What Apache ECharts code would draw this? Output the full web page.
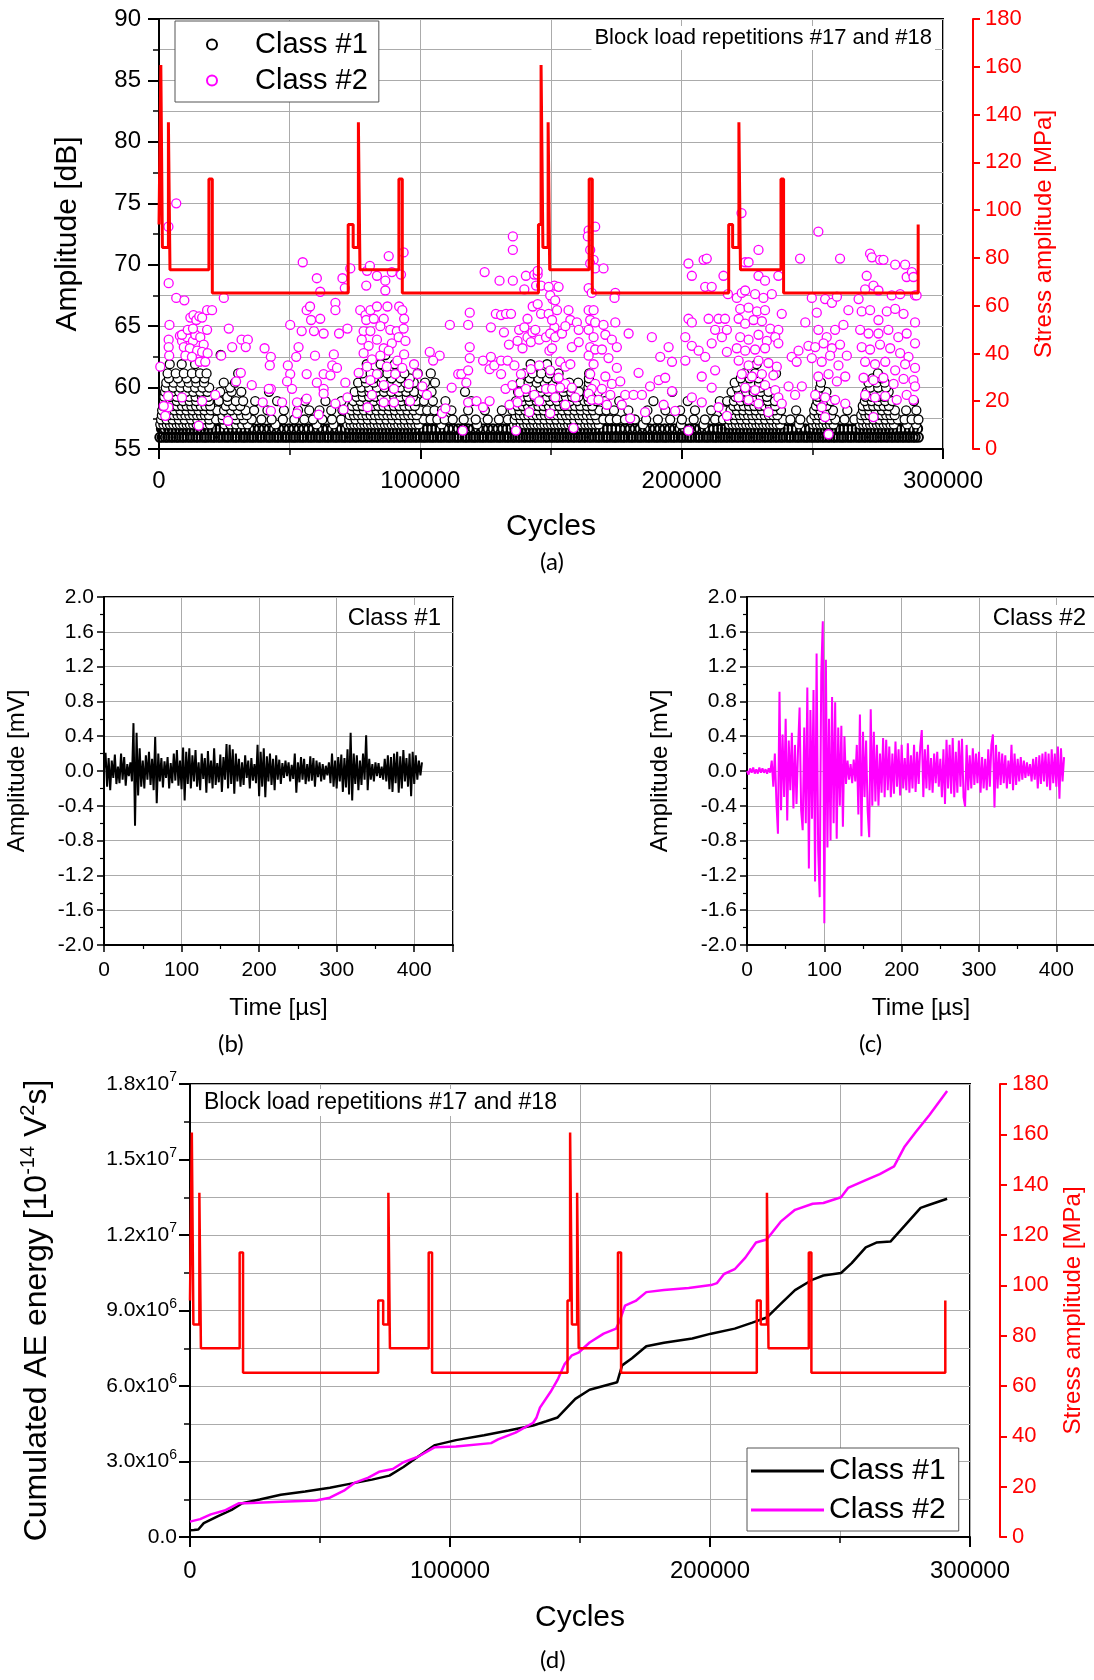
<!DOCTYPE html>
<html>
<head>
<meta charset="utf-8">
<script src="https://cdn.jsdelivr.net/npm/echarts@6/dist/echarts.min.js"></script>
<style>
  html, body { margin: 0; padding: 0; background: #fff; }
  #chart { width: 1094px; height: 1680px; }
</style>
</head>
<body>
<div id="chart"></div>
<script>
// ---------- data ----------
// cycle positions below are in thousands of cycles

// stress amplitude block sequence [kcycles, MPa] (step changes)
const stressSteps = [
  [0, 94], [0.7, 160.7], [1.3, 84.4], [3.6, 136.8], [4.2, 75], [19.1, 113], [20.4, 65.3],
  [72.4, 94], [74.3, 84.4], [76.3, 136.8], [76.9, 75], [91.8, 113], [93.1, 65.3],
  [145.2, 94], [146.2, 160.7], [146.9, 84.4], [148.9, 136.8], [149.5, 75], [164.6, 113], [165.8, 65.3],
  [218.0, 94], [219.5, 84.4], [221.9, 136.8], [222.5, 75], [238.0, 113], [239.0, 65.3],
  [290.5, 94]
]

// class #1 hits close to the threshold (dense band), cycles (k) at 55.95 dB and 56.65 dB
const c1Band0 = [0.3,1.2,2.4,3.3,4.5,5.4,6.6,7.5,8.7,9.6,10.8,11.9,12.9,14.1,15,16.2,17.3,18.2,19.4,20.5,21.4,22.6,23.5,24.7,25.8,26.7,27.9,29,29.9,31.1,32.2,33.1,34.3,35.4,36.3,37.5,38.6,39.5,40.7,41.8,42.7,43.9,45,45.9,47.1,48.2,49.1,50.3,51.4,52.3,53.5,54.6,55.5,56.7,57.8,58.7,59.9,61,61.9,63.1,64.2,65.1,66.3,67.4,68.3,69.5,70.6,71.5,72.7,73.6,74.8,75.7,76.9,77.8,79,79.9,81.1,82,83.2,84.1,85.3,86.2,87.4,88.3,89.5,90.4,91.6,92.5,93.7,94.6,95.8,96.7,97.9,98.8,100,101.1,102,103.2,104.3,105.2,106.4,107.5,108.4,109.6,110.7,111.6,112.8,113.9,114.8,116,117.1,118,119.2,120.3,121.2,122.4,123.5,124.4,125.6,126.7,127.6,128.8,129.9,130.8,132,133.1,134,135.2,136.1,137.3,138.2,139.4,140.3,141.5,142.4,143.6,144.5,145.7,146.6,147.8,148.7,149.9,150.8,152,152.9,154.1,155,156.2,157.1,158.3,159.2,160.4,161.3,162.5,163.4,164.6,165.5,166.7,167.8,168.7,169.9,171,171.9,173.1,174.2,175.1,176.3,177.4,178.3,179.5,180.6,181.5,182.7,183.8,184.7,185.9,187,187.9,189.1,190.2,191.1,192.3,193.4,194.3,195.5,196.6,197.5,198.7,199.8,200.7,201.9,203,203.9,205.1,206.2,207.1,208.3,209.4,210.3,211.5,212.6,213.5,214.7,215.6,216.8,217.7,218.9,219.8,221,221.9,223.1,224,225.2,226.1,227.3,228.2,229.4,230.3,231.5,232.4,233.6,234.5,235.7,236.6,237.8,238.7,239.9,241,241.9,243.1,244.2,245.1,246.3,247.4,248.3,249.5,250.4,251.6,252.5,253.7,254.6,255.8,256.7,257.9,258.8,260,261.1,262,263.2,264.3,265.2,266.4,267.5,268.4,269.6,270.5,271.7,272.6,273.8,274.7,275.9,276.8,278,278.9,280.1,281,282.2,283.1,284.3,285.2,286.4,287.3,288.5,289.4,290.6]
const c1Band1 = [0.9,2.2,3.6,5,6.4,7.8,9.1,10.5,11.9,13.3,14.7,16,17.4,18.8,20.2,21.7,23.3,24.9,26.5,28.1,29.7,31.3,32.9,34.6,36.4,38.3,40.2,42.1,44,45.9,47.8,49.7,51.6,53.5,55.4,57.2,59,60.8,62.6,64.4,66.2,68,69.8,71.4,72.8,74.2,75.6,77,78.4,79.8,81.2,82.6,84,85.4,86.8,88.2,89.6,91,92.4,93.8,95.2,96.6,98,99.5,101.1,102.7,104.3,105.9,107.5,109.1,110.8,112.6,114.5,116.4,118.3,120.2,122.1,124,125.9,127.8,129.7,131.5,133.2,134.7,136.1,137.5,138.9,140.3,141.7,143.1,144.5,145.9,147.3,148.7,150.1,151.5,152.9,154.3,155.7,157.1,158.5,159.9,161.3,162.7,164.1,165.5,166.9,168.4,170,171.6,173.2,174.8,176.5,178.3,180.2,182.1,184,185.9,187.8,189.7,191.6,193.5,195.4,197.3,199.2,201.1,203,204.9,206.8,208.7,210.5,212.2,213.8,215.3,216.7,218.1,219.5,220.9,222.3,223.7,225.1,226.5,227.9,229.3,230.7,232.1,233.5,234.9,236.3,237.7,239.1,240.6,242.2,243.9,245.6,247.3,249,250.5,251.9,253.3,254.7,256.1,257.5,258.9,260.4,262,263.6,265.2,266.8,268.2,269.6,271,272.4,273.8,275.2,276.6,278,279.4,280.8,282.3,283.9,285.5,287.1,288.7,290.3]
const class1BandLevels = [55.95, 56.65]
const class1BandRows = [c1Band0, c1Band1]

// class #1 hits above the band, amplitude levels [dB] and the cycles (k) at each level
const c1L570 = [0.5,1.7,3,4.2,5.5,6.8,8,9.3,10.6,11.8,13.1,14.4,15.6,16.9,18.2,19.5,25.1,27.3,29.5,31.8,33.9,44.6,60.3,66.8,72.1,73.4,74.7,76,77.3,78.6,79.9,81.2,82.5,83.8,85.1,86.4,87.7,89,90.3,91.6,92.9,94.2,95.5,96.8,98.1,99.4,108.1,121.7,135.8,137.1,138.4,139.7,141,142.3,143.6,144.9,146.2,147.5,148.8,150.1,151.4,152.7,154,155.3,156.6,157.9,159.2,160.5,161.8,163.1,164.4,165.7,167,168.3,185.2,199.7,208.4,218.2,219.5,220.8,222.1,223.4,224.7,226,227.3,228.6,229.9,231.2,232.5,233.8,235.1,236.4,237.7,244.9,250.3,251.6,252.9,254.2,255.5,256.8,258.1,268.2,269.5,270.8,272.1,273.4,274.7,276,277.3,278.6,279.9,281.2,286.3,289.7]
const c1L574 = [0.8,2.9,5.2,7.6,9.8,12.3,14.6,16.9,19.2,21.8,24.4,27,29.6,32.4,35.5,39.2,43.1,47.4,51.8,55.6,58.9,62.5,66.2,69.7,72.8,75.2,77.6,79.9,82.3,84.6,87,89.3,91.7,94,96.3,98.7,101.2,103.9,106.5,109.3,112.4,116.6,121.2,125.8,130.1,133.5,136.1,138.4,140.7,143,145.3,147.5,149.8,152,154.3,156.5,158.8,161,163.3,165.3,167.6,170,172.5,175.2,178.3,182.1,186.4,190.9,195.6,200.1,204.6,208.9,212.8,215.8,218.1,220.4,222.7,225,227.3,229.6,231.9,234.2,236.5,238.8,241.6,245.4,249.6,251.9,254.2,256.5,258.8,262.3,266.1,268.8,271.1,273.4,275.7,278,280.3,282.7,285.3,288,290.6]
const c1L5775 = [1.1,2.6,4.1,5.6,7.1,8.6,10.1,11.6,13.1,14.6,16.1,17.6,19.1,24.2,26.6,29,31.4,33.6,73,74.6,76.2,77.8,79.4,81,82.6,84.2,85.8,87.4,89,90.6,92.2,93.8,95.4,97,98.6,136.5,138.1,139.7,141.3,142.9,144.5,146.1,147.7,149.3,150.9,152.5,154.1,155.7,157.3,158.9,160.5,162.1,163.7,165.3,166.9,219,220.6,222.2,223.8,225.4,227,228.6,230.2,231.8,233.4,235,236.6,250.8,252.4,254,255.6,257.2,268.7,270.3,271.9,273.5,275.1,276.7,278.3,279.9,281.5]
const c1L5815 = [1.2,3.5,5.9,8.2,10.5,12.8,15.1,17.4,19.8,22.3,24.9,27.6,30.2,33.1,36.4,41.5,47.8,53.2,57.5,61.4,65.9,70.2,73.6,76,78.4,80.8,83.2,85.5,87.9,90.2,92.6,95,97.4,99.9,102.6,105.4,108.3,111.9,118.3,124.7,131.2,135.3,137.9,140.2,142.6,144.9,147.2,149.6,151.9,154.3,156.6,159,161.4,163.9,166,168.5,171.2,174.1,179.6,186.9,193.8,199.4,205.1,211.3,216.2,218.7,221.1,223.5,225.9,228.3,230.7,233.1,235.6,238,243.8,250.7,253.1,255.5,257.9,263.4,269.4,271.8,274.2,276.6,279,281.6,285.9,289.8]
const c1L585 = [1.6,3.4,5.2,7,8.8,10.6,12.4,14.2,16,17.8,19.6,25.6,28.4,31.1,73.9,75.9,77.9,79.9,81.9,83.9,85.9,87.9,89.9,91.9,93.9,95.9,97.9,137.2,139.2,141.2,143.2,145.2,147.2,149.2,151.2,153.2,155.2,157.2,159.2,161.2,163.8,165.8,219.8,221.8,223.8,225.8,227.8,229.8,231.8,233.8,235.8,251.4,253.4,255.4,269.3,271.3,273.3,275.3,277.3,279.3]
const c1L589 = [1.9,4.3,6.8,9.2,11.7,14.2,16.7,19.1,22.9,26.3,29.4,32.2,36.8,45.2,55.9,63.7,69.8,74.4,77.1,79.7,82.3,84.9,87.5,90.1,92.8,95.5,98.4,101.4,104.8,109.6,119.5,136.6,139.3,141.9,144.5,147.1,149.7,152.3,154.9,157.5,160.1,162.8,164.4,167.3,170.6,176.1,189.2,202.3,214.6,217.4,220,222.6,225.2,227.8,230.4,233,235.7,252,254.6,257.2,270.1,272.7,275.3,277.9,280.6,288.9]
const c1L5925 = [2,4.4,6.8,9.2,11.6,14,16.4,18.8,26.1,75.6,78,80.4,82.8,85.2,87.6,90,92.4,94.8,97.2,138.9,141.3,143.7,146.1,148.5,150.9,153.3,155.7,158.1,160.5,164.1,220.6,223,225.4,227.8,230.2,232.6,252.1,254.5,270.4,272.8,275.2,277.6]
const c1L5965 = [2.3,5,7.7,10.4,13.1,15.8,18.5,23.4,27.8,31.5,42.1,74.9,77.7,80.5,83.3,86.1,88.9,91.7,94.6,97.6,100.9,104.3,117.1,137.4,140.3,143.2,146.1,149,151.9,154.8,157.7,160.7,164.2,168.1,196.4,219.1,221.9,224.7,227.5,230.3,233.2,252.6,255.4,270.8,273.6,276.4,279.2]
const c1L600 = [2.6,5.4,8.2,11,13.8,16.6,19.2,27.2,77.4,80.4,83.4,86.4,89.4,92.4,95.4,140,143,146,149,152,155,158,164.3,221.2,224.2,227.2,230.2,253,272.2,275.2,278.2]
const c1L604 = [2.8,5.6,8.5,11.4,14.3,17.2,24.8,29.1,76.2,79.2,82.2,85.2,88.2,91.2,94.3,97.5,101.8,105.6,138.3,141.4,144.5,147.6,150.7,153.8,157,160.4,164.5,220.3,223.4,226.5,229.6,253.3,271.5,274.6,277.7]
const c1L6075 = [3.8,7.2,10.6,14,17.4,78.8,82.2,85.6,89,92.4,96,141.8,145.2,148.6,152,164.5,222.6,226,229.4,273,276.4]
const c1L6115 = [3.3,6.4,9.5,12.6,15.7,18.2,30.3,77.8,81,84.2,87.4,90.6,93.9,99,104,139.7,143,146.3,149.6,152.9,164.6,223.9,228.1,236.1,275.1]
const c1L619 = [4.1,8.7,13.8,79.5,84.8,90.2,142.2,148.5,228.7]
const c1L6265 = [23.6,86.6]
const class1Levels = [57.0, 57.4, 57.75, 58.15, 58.5, 58.9, 59.25, 59.65, 60.0, 60.4, 60.75, 61.15, 61.9, 62.65]
const class1Rows = [c1L570, c1L574, c1L5775, c1L5815, c1L585, c1L589, c1L5925, c1L5965, c1L600, c1L604, c1L6075, c1L6115, c1L619, c1L6265]

// class #2 hits [kcycles, dB]
const class2Hits = [
  [0.5,61.7],[3.6,73.1],[3.7,68.5],[4,65.1],[3.7,63.9],[3.7,63.3],[3.9,62.6],[3.5,59.3],[3.6,58.4],[6.6,75],[6.6,67.3],[9.7,67.1],
  [12,65.7],[13.2,65.9],[14.3,65.5],[15.4,65.8],[16.5,65.7],[18.4,66.3],[20.3,66.3],[24.8,67.3],[26.7,64.8],
  [8,64.2],[8.8,63.8],[10.7,64.1],[13,63.8],[13.9,64.3],[15.8,64.1],[17.1,63.5],[18.4,64.7],[9.5,63.3],[11.8,63.2],
  [14.6,63],[16.5,62.9],[10.1,62.6],[12.6,62.5],[15.6,62.1],[17.7,62.1],[18.6,62.8],[8.8,64.3],[11,64.7],[13,64.8],
  [8.8,59.2],[1.8,58.5],[2.4,57.7],[15.2,56.9],[26.4,57.3],[16.5,58.9],[31.6,63.9],[34,63.9],[28,63.3],[33.2,63.3],
  [23.8,62.6],[31.3,61.2],[21.5,59.4],[29.5,60.5],[35.5,60.2],[40.4,63.2],[42.8,62.5],[42.4,61.8],[42.8,59.9],[42.8,58.1],
  [39.7,58.8],[47.1,58.8],[50.2,65.1],[55,70.2],[49.3,61.8],[50.2,61.1],[50.9,59.9],[52.8,58.8],[53.4,63.3],[54.6,64.6],
  [56.5,66.3],[57.8,66.6],[58.2,65.5],[59.3,64.6],[59.7,62.6],[60.4,68.9],[61.7,67.8],[61.7,65.6],[63,64.4],[63,61.1],
  [66.3,61.8],[66.9,62.7],[67.5,66.9],[67.5,66.3],[68.9,64.4],[70.2,68.9],[71.1,68.1],[72.1,64.8],[73.2,69.7],[52.5,62.5],
  [56.5,61.1],[60.4,60.4],[63,59.9],[65.6,61],[68.1,61.6],[71.3,60.4],[72.1,59.2],[67.5,58.7],[61.1,57.8],[63,59.5],
  [70.6,58.2],[49,60.5],[52.8,57.9],[56.5,59.1],[42,59.9],
  [77,66.3],[79,65.9],[80.9,66.3],[79.3,65.5],[82.2,65.6],[83.4,66.6],[86,65.6],[87.4,66.6],[91.9,66.6],[93.1,66.3],
  [93.8,65.6],[79.6,69.5],[80.7,69.9],[83.4,69.1],[86.6,68.7],[87.9,70.7],[86.6,67.9],[79.3,68.3],[92.6,69.2],[93.6,71],
  [89.1,69.4],[78.3,64.6],[80.9,64.6],[84.7,65],[88.5,64.7],[91,64.6],[93.6,64.8],[77.6,63.9],[80.2,63.4],[83.4,63.9],
  [86,63.2],[89.1,63.6],[91.7,64.1],[94.3,63.8],[78.3,62.8],[81.5,62.3],[84.7,62.6],[87.9,63],[91.2,62.2],[93.8,62.7],
  [79.6,61.7],[83.4,61.1],[87.2,61.7],[90.4,61.1],[93.1,61.6],[76.4,61.2],[80.9,60.6],[86,60.2],[89.9,59.9],[95.6,60.3],
  [97.6,61.9],[98.9,61.1],[96.1,58.9],[86,58.8],[89.9,58.8],[79.8,58.4],[81.5,59.4],
  [103.6,62.9],[107.4,62.6],[104.9,62.2],[111.3,65.1],[114.5,61.1],[115.7,61.1],[118.3,61.4],[118.9,63.3],[118.3,65.1],[118.9,66.1],
  [112,60],[117.6,60.4],[118.9,62.4],[124,62.2],[124.6,69.4],[126.5,61.5],[118.3,58.8],[121.5,58.9],[108.3,57.9],[109.6,58.3],
  [124,58.4],[116.2,56.5],[100.8,60.1],[102.5,59.4],
  [128.3,61.8],[130.9,62.2],[133.4,62.2],[127,64.9],[128.9,66],[130.9,65.9],[132.8,66],[134.7,66],[135.4,72.3],[135.4,71.2],
  [135.4,68.7],[130.3,68.7],[139.8,68],[140.4,69.1],[143.6,69.2],[144.9,69.2],[144.3,68.3],[146.2,68.3],[144.9,69.5],[141,65.6],
  [143,66.6],[144.9,66.8],[146.2,66],[137.8,64.7],[139.8,64.9],[141,64.1],[142.9,64.5],[137.2,63.8],[139.1,63.2],[142.3,63.7],
  [145.5,63.9],[133.9,63.5],[132,64.5],[127,62.5],[130.9,61.1],[136,61.8],[138.5,61.1],[142.3,61.5],[145.5,61.8],[132.6,59.9],
  [135.2,60.2],[137.8,59.6],[140.4,59.9],[143.6,59.4],[148.1,59.9],[126.5,58.9],[134.1,58.6],[137.2,58.8],[141.7,58],[136.6,56.5],
  [145.5,58.9],[144,64.7],[148.1,64.1],[149.4,63],[151.3,64.9],[150.6,67.2],[151.3,68.3],
  [149.1,68.2],[149.7,67.5],[149.1,66],[150.4,65.5],[152.9,68.2],[151.6,67.1],[152.3,66.3],[149.7,64.4],[151.6,64.1],[154.2,64.4],
  [156.7,66.3],[157.4,65.5],[159.9,65.3],[160.6,64.7],[155.5,65],[158,63.3],[160.6,63.7],[150.4,63.2],[153.5,62.1],[155.5,61.7],
  [157.4,61.9],[149.7,61.4],[152.9,60.8],[155.5,60.3],[158,60],[150.4,59.9],[151.6,59.2],[155.5,58.6],[159.3,59.2],[149.7,57.9],
  [158.6,56.7],[153.5,60],
  [164.4,72.8],[166.9,73.1],[164.1,72.3],[165,71.2],[166.3,70.4],[165,70.1],[166.9,69.7],[164.4,68.1],[165.6,67.7],[164.4,66.3],
  [166.3,66.3],[165,65.5],[166.9,65.3],[164.4,64.7],[166.3,64.1],[165,63.3],[166.9,63.1],[164.4,62.6],[166.3,61.9],[165,61.1],
  [166.9,60.3],[165.6,59.9],[164.4,59.5],[165.6,59],
  [170.1,69.7],[174.6,67.7],[174.3,67.3],[170.1,65.1],[174.6,65.3],[170.8,64.3],[173.3,63.9],[175.2,63.3],[169.5,63.1],[172,62.4],
  [175.2,61.6],[170.8,60.9],[173.3,60.3],[176.5,60.5],[169.5,59.9],[172.7,59.4],[178.4,59.4],[168.2,59],[171.4,58.6],[177.1,58.6],
  [181.6,59.4],[184.8,59.4],[179.7,64.4],[180.3,57.5],[186,58],[188.6,64.1],[191.8,62.5],[195,63.3],[196.3,62.1],[191.2,60.6],
  [193.7,60.8],[196.3,59.7],[193.1,58.6],[197.5,58.1],[201.4,62.2],[202.6,70.1],[203.9,69.1],[202.6,65.6],[203.9,65.3],[201.4,64.1],
  [203.9,63.4],[206.5,63],[208.4,70.4],[209.6,70.5],[209,68.2],[211.5,68.2],[210.3,65.6],[214.1,65.6],[216.6,65.6],[212.8,64.7],
  [215.4,64.1],[217.3,64.7],[211.5,63.6],[217.3,62.9],[209,62.5],[212.8,61.4],[207.7,60.9],[211.5,60],[203.9,59.2],[207.7,58.8],
  [214.1,58.4],[217.3,57.7],[202.6,56.5],[216,69.1],[217.7,67.6],[183.5,61.2],[187.9,60.1],
  [221.1,67.3],[223,67.7],[224.3,70.2],[225.6,70.2],[229.4,71.2],[229.4,69.1],[231.9,68.7],[237,69.1],[224.3,67.9],[228.1,67.6],
  [231.3,67.3],[234.5,67.6],[222.4,66.4],[225.6,66.5],[228.8,66.2],[231.9,66.3],[221.8,65.6],[224.3,65.2],[227.5,65.5],[230.7,65.4],
  [233.9,64.8],[237,64.7],[222.4,64.1],[225.6,63.9],[229.4,64.3],[232.6,63.8],[235.8,64.1],[221.1,63.2],[224.3,63],[228.1,63.1],
  [231.9,63.2],[237,63.6],[221.8,62.2],[225.6,61.8],[229.4,62.2],[233.2,62],[236.4,61.7],[223,61.1],[226.9,60.9],[230.7,61.1],
  [235.1,61],[224.3,60],[228.1,59.8],[231.9,60.2],[235.8,59.8],[221.8,59.2],[225.6,59],[229.4,58.7],[233.2,58],[237,59.2],
  [238.3,66],[238.3,58.7],[240.9,60.1],[242.1,62.5],[244.7,63],[244,62.1],[246,60.1],[243.4,59.4],[245.3,70.5],[248.5,63.4],
  [247.3,65.3],[222.9,74.2],
  [252.3,72.7],[249.8,67.3],[251.7,66.1],[254.9,67.2],[257.5,66.9],[259.4,67.4],[260.6,70.5],[252.3,64.7],[255.5,64.1],[258.7,64.7],
  [261.9,65.1],[251.1,63.3],[254.3,63.6],[257.5,63.2],[260.6,63.5],[249.8,62.4],[253.6,62.1],[256.8,62.6],[260,61.8],[263.2,62.6],
  [252.3,60.9],[256.2,61.1],[259.4,60.5],[262.6,60.9],[251.1,59.4],[254.9,59.2],[258.7,59],[262.6,58.7],[254.9,57.6],[256.2,56.2],
  [253.6,58.4],
  [263.8,66.3],[267.7,67.2],[270.2,68],[272.1,70.9],[272.8,70.6],[275.9,70.4],[277.2,70.4],[281.7,70],[285.5,70],[270.8,69.1],
  [273.4,68.3],[275.3,67.9],[286.1,69],[288.1,69.4],[288.7,69],[289.3,67.5],[289.9,67.5],[280.4,67.5],[283.6,67.6],[268.9,66.2],
  [272.1,66.3],[275.3,65.5],[278.5,66.2],[281.7,66.4],[284.9,66],[289.3,65.3],[268.3,64.7],[271.5,64.4],[275.3,64.4],[279.1,64.7],
  [282.9,64.1],[286.1,64.4],[289.3,63.6],[268.9,63.3],[272.1,63.1],[275.9,63.5],[279.8,63.2],[283.6,62.8],[286.8,62.5],[270.2,62.1],
  [274,61.9],[277.9,62.1],[281.7,61.4],[285.5,61.9],[289.3,61.6],[269.6,60.8],[273.4,60.6],[277.2,60.8],[281.1,60.3],[284.9,60.7],
  [288.7,60.6],[270.2,59.4],[274,59.2],[277.9,59.3],[282.3,59],[286.1,59.4],[273.4,57.6],[289.3,60.1],[288.7,59]
]

// waveforms, one sample every 2 µs from 0 to 410 µs [mV]
const waveStep = 2
const wave1 = [
  0.02,0.21,-0.18,0.15,-0.22,0.12,-0.08,0.19,-0.15,0.05,-0.14,0.2,-0.1,0.16,-0.17,0.08,-0.06,0.1,-0.12,0.55,
  -0.63,0.44,-0.28,0.26,-0.18,0.12,-0.2,0.18,-0.1,0.22,-0.16,0.14,-0.22,0.39,-0.37,0.2,-0.12,0.15,-0.19,0.11,
  -0.08,0.16,-0.2,0.09,-0.14,0.2,-0.11,0.24,-0.17,0.12,-0.21,0.27,-0.34,0.22,-0.15,0.26,-0.2,0.18,-0.12,0.24,
  -0.18,0.1,-0.22,0.2,-0.09,0.15,-0.25,0.23,-0.14,0.12,-0.2,0.26,-0.16,0.09,-0.13,0.19,-0.24,0.16,-0.1,0.31,
  -0.2,0.3,-0.15,0.25,-0.26,0.2,-0.12,0.14,-0.18,0.1,-0.16,0.18,-0.08,0.12,-0.2,0.15,-0.11,0.08,-0.14,0.3,
  -0.29,0.22,-0.18,0.26,-0.3,0.17,-0.12,0.2,-0.16,0.14,-0.22,0.18,-0.1,0.13,-0.15,0.09,-0.08,0.12,-0.06,0.1,
  -0.12,0.07,-0.09,0.2,-0.25,0.1,-0.13,0.16,-0.1,0.14,-0.15,0.08,-0.12,0.17,-0.11,0.15,-0.18,0.12,-0.07,0.1,
  -0.12,0.08,-0.1,0.06,-0.05,0.1,-0.14,0.2,-0.18,0.12,-0.2,0.16,-0.12,0.19,-0.24,0.15,-0.19,0.25,-0.27,0.44,
  -0.34,0.2,-0.15,0.18,-0.22,0.12,-0.16,0.2,-0.1,0.41,-0.22,0.14,-0.1,0.08,-0.12,0.1,-0.06,0.09,-0.08,0.05,
  -0.1,0.14,-0.12,0.18,-0.21,0.16,-0.24,0.2,-0.14,0.22,-0.25,0.17,-0.2,0.24,-0.12,0.15,-0.18,0.2,-0.29,0.22,
  -0.15,0.18,-0.1,0.12,-0.05,0.1
]
const wave2 = [
  0,-0.04,0.03,-0.02,0.04,-0.03,0.02,-0.03,0.04,-0.02,0.03,-0.02,0.02,-0.03,0.03,-0.02,0.12,-0.18,0.2,-0.35,
  -0.72,0.91,-0.45,0.42,-0.3,0.6,-0.57,0.35,-0.22,0.44,-0.43,0.3,-0.38,0.25,0.73,-0.45,-0.68,0.5,-0.6,0.96,
  -1.12,0.7,-0.55,0.93,-1.27,1.35,-0.9,-1.45,1.12,1.72,-1.75,1.28,-0.88,0.6,-0.8,0.85,-0.6,0.79,-0.78,0.5,
  -0.4,0.52,-0.64,0.4,-0.15,0.12,-0.1,0.08,-0.14,0.13,-0.12,0.3,-0.5,0.65,-0.75,0.45,-0.3,0.35,-0.45,-0.76,
  0.71,-0.4,0.45,-0.35,0.3,-0.4,0.2,-0.25,0.38,-0.3,0.36,-0.22,0.28,-0.3,0.2,-0.26,0.34,-0.18,0.25,-0.28,
  0.3,-0.2,0.15,-0.22,0.32,-0.25,0.18,-0.2,0.3,-0.24,0.22,-0.15,0.28,0.47,-0.3,0.25,-0.2,0.3,-0.22,0.15,
  -0.25,0.2,-0.14,0.22,-0.18,0.14,-0.3,0.25,-0.38,0.36,-0.2,0.3,-0.26,0.38,-0.3,0.22,-0.25,0.35,-0.18,0.37,
  -0.3,-0.41,0.3,-0.22,0.18,-0.2,0.26,-0.16,0.2,-0.14,0.22,-0.25,0.16,-0.2,0.14,-0.22,0.25,-0.18,0.3,0.42,
  -0.42,0.3,-0.2,0.22,-0.16,0.2,-0.14,0.18,-0.2,0.12,-0.15,0.3,-0.22,0.2,-0.16,0.14,-0.12,0.16,-0.1,0.12,
  -0.08,0.1,-0.06,0.08,-0.12,0.14,-0.1,0.16,-0.2,0.18,-0.15,0.2,-0.12,0.22,-0.18,0.2,-0.22,0.25,-0.14,0.2,
  -0.18,0.28,-0.32,0.26,-0.12,0.16
]

// cumulated AE energy [kcycles, 10^6 x 10^-14 V^2 s]
const energy1 = [
  [0,0.27],[1.5,0.28],[3.2,0.3],[5.3,0.55],[10.6,0.82],[16,1.08],[20.1,1.34],[26.8,1.49],[34.9,1.68],[44.3,1.81],
  [53.8,1.96],[61.9,2.12],[70,2.28],[76.7,2.44],[82.1,2.78],[87.5,3.18],[94.2,3.65],[102.3,3.85],[113.1,4.04],[122.5,4.23],
  [132,4.43],[137,4.6],[141.4,4.75],[148.2,5.49],[153.7,5.85],[164.3,6.15],[166.2,6.82],[170,7.1],[175.5,7.58],[182.3,7.72],
  [193.2,7.89],[200.4,8.08],[209.5,8.28],[216.3,8.52],[221.8,8.72],[227.2,9.26],[232.7,9.81],[239.5,10.23],[243.6,10.39],[250.4,10.49],
  [254.5,10.88],[259.9,11.51],[264,11.7],[269.4,11.74],[274.9,12.37],[281,13.08],[284.4,13.2],[291.2,13.44]
]
const energy2 = [
  [0,0.61],[3.9,0.71],[8,0.9],[13.3,1.05],[18.7,1.34],[21.4,1.34],[34.9,1.4],[48.4,1.45],[53.8,1.56],[59.2,1.84],
  [63.2,2.15],[68.6,2.36],[72.7,2.59],[78,2.7],[82.1,2.97],[87.5,3.18],[94.2,3.57],[102.3,3.6],[115.8,3.73],[118.5,3.88],
  [125.2,4.15],[132,4.54],[133.3,4.75],[134.6,5.14],[138.7,5.77],[141.4,6.25],[144.1,6.87],[146.9,7.22],[149.6,7.34],[153.7,7.73],
  [159.1,8.08],[163.9,8.28],[165.3,8.6],[167.3,9.19],[171.4,9.38],[175.5,9.73],[182.3,9.81],[191.8,9.89],[200.4,10.01],[202.7,10.09],
  [205.4,10.45],[209.5,10.64],[213.6,11.1],[217.7,11.7],[221.8,11.82],[227.2,12.53],[232.7,13.0],[239.5,13.24],[243.6,13.27],[250.4,13.5],
  [253.1,13.87],[259.9,14.18],[265.3,14.42],[270.8,14.73],[274.9,15.52],[279,16.07],[284.4,16.77],[291.2,17.72]
]

// ---------- chart ----------
const FONT = 'Liberation Sans'
const GRID_C = '#ababab'
const RED = '#ff0000'
const MAGENTA = '#ff00ff'

const kc = arr => arr.map(p => [p[0] * 1000, p[1]])
const rowsToPoints = (rows, levels) => {
  const pts = []
  rows.forEach((row, i) => row.forEach(c => pts.push([c * 1000, levels[i]])))
  return pts
}
const class1BandPoints = rowsToPoints(class1BandRows, class1BandLevels)
const class1Points = rowsToPoints(class1Rows, class1Levels)
const wavePoints = arr => arr.map((v, i) => [i * waveStep, v])
const energyPoints = arr => arr.map(p => [p[0] * 1000, p[1] * 1e6])

function sciLabel(v) {
  if (v === 0) return '{n|0.0}'
  const e = Math.floor(Math.log10(v) + 1e-9)
  const m = v / Math.pow(10, e)
  return '{n|' + m.toFixed(1) + 'x10}{s|' + e + '}'
}

function cycleAxis(gridIndex, nameGap, margin) {
  return {
    gridIndex, type: 'value', min: 0, max: 300000, interval: 100000,
    axisLine: { onZero: false, lineStyle: { color: '#000', width: 2 } },
    axisTick: { length: 10, lineStyle: { color: '#000', width: 2 } },
    minorTick: { show: true, splitNumber: 2, length: 6, lineStyle: { color: '#000', width: 1.5 } },
    axisLabel: { fontSize: 24, color: '#000', margin, fontFamily: FONT, formatter: v => String(v) },
    splitLine: { show: true, lineStyle: { color: GRID_C, width: 1 } },
    minorSplitLine: { show: true, lineStyle: { color: GRID_C, width: 1 } },
    name: 'Cycles', nameLocation: 'middle', nameGap,
    nameTextStyle: { fontSize: 30, color: '#000', fontFamily: FONT }
  }
}

function timeAxis(gridIndex) {
  return {
    gridIndex, type: 'value', min: 0, max: 450, interval: 100,
    axisLine: { onZero: false, lineStyle: { color: '#000', width: 2 } },
    axisTick: { length: 7, lineStyle: { color: '#000', width: 1.5 } },
    minorTick: { show: true, splitNumber: 2, length: 4, lineStyle: { color: '#000', width: 1.2 } },
    axisLabel: { fontSize: 21, color: '#000', margin: 15, fontFamily: FONT, showMaxLabel: false },
    splitLine: { show: true, lineStyle: { color: GRID_C, width: 1 } },
    name: 'Time [µs]', nameLocation: 'middle', nameGap: 51,
    nameTextStyle: { fontSize: 24, color: '#000', fontFamily: FONT }
  }
}

function mvAxis(gridIndex) {
  return {
    gridIndex, type: 'value', min: -2, max: 2, interval: 0.4,
    axisLine: { onZero: false, lineStyle: { color: '#000', width: 2 } },
    axisTick: { length: 7, lineStyle: { color: '#000', width: 1.5 } },
    minorTick: { show: true, splitNumber: 2, length: 4, lineStyle: { color: '#000', width: 1.2 } },
    axisLabel: { fontSize: 21, color: '#000', margin: 10, fontFamily: FONT,
      formatter: v => (Math.abs(v) < 1e-9 ? 0 : v).toFixed(1) },
    splitLine: { show: true, lineStyle: { color: GRID_C, width: 1 } },
    name: 'Amplitude [mV]', nameLocation: 'middle', nameGap: 75, nameRotate: 90,
    nameTextStyle: { fontSize: 24, color: '#000', fontFamily: FONT }
  }
}

function stressAxis(gridIndex, nameGap) {
  return {
    gridIndex, type: 'value', position: 'right', offset: 30, min: 0, max: 180, interval: 20,
    axisLine: { show: true, onZero: false, lineStyle: { color: RED, width: 2 } },
    axisTick: { show: true, length: 7, lineStyle: { color: RED, width: 2 } },
    axisLabel: { fontSize: 22, color: RED, margin: 12, fontFamily: FONT },
    splitLine: { show: false },
    name: 'Stress amplitude [MPa]', nameLocation: 'middle', nameGap, nameRotate: 90,
    nameTextStyle: { fontSize: 24, color: RED, fontFamily: FONT }
  }
}

const gridBox = { show: true, borderColor: '#000', borderWidth: 2, backgroundColor: 'transparent', containLabel: false, outerBoundsMode: 'none' }
const labelFont = { fontSize: 24, fontWeight: 'normal', color: '#000', fontFamily: 'Lato' }

const option = {
  animation: false,
  backgroundColor: '#fff',
  textStyle: { fontFamily: FONT },
  grid: [
    Object.assign({ left: 159, top: 19, width: 784, height: 430 }, gridBox),
    Object.assign({ left: 104, top: 597, width: 349, height: 348 }, gridBox),
    Object.assign({ left: 747, top: 597, width: 348, height: 348 }, gridBox),
    Object.assign({ left: 190, top: 1084, width: 780, height: 453 }, gridBox)
  ],
  xAxis: [cycleAxis(0, 63, 20), timeAxis(1), timeAxis(2), cycleAxis(3, 66, 22)],
  yAxis: [
    {
      gridIndex: 0, type: 'value', min: 55, max: 90, interval: 5,
      axisLine: { onZero: false, lineStyle: { color: '#000', width: 2 } },
      axisTick: { length: 11, lineStyle: { color: '#000', width: 2 } },
      minorTick: { show: true, splitNumber: 2, length: 6, lineStyle: { color: '#000', width: 1.5 } },
      axisLabel: { fontSize: 24, color: '#000', margin: 18, fontFamily: FONT },
      splitLine: { show: true, lineStyle: { color: GRID_C, width: 1 } },
      minorSplitLine: { show: true, lineStyle: { color: GRID_C, width: 1 } },
      name: 'Amplitude [dB]', nameLocation: 'middle', nameGap: 76, nameRotate: 90,
      nameTextStyle: { fontSize: 30, color: '#000', fontFamily: FONT }
    },
    stressAxis(0, 56),
    mvAxis(1),
    mvAxis(2),
    {
      gridIndex: 3, type: 'value', min: 0, max: 18000000, interval: 3000000,
      axisLine: { onZero: false, lineStyle: { color: '#000', width: 2 } },
      axisTick: { length: 11, lineStyle: { color: '#000', width: 2 } },
      minorTick: { show: true, splitNumber: 2, length: 6, lineStyle: { color: '#000', width: 1.5 } },
      axisLabel: {
        margin: 13, formatter: sciLabel,
        rich: {
          n: { fontSize: 21, color: '#000', fontFamily: FONT, lineHeight: 27 },
          s: { fontSize: 14, color: '#000', fontFamily: FONT, verticalAlign: 'top' }
        }
      },
      splitLine: { show: true, lineStyle: { color: GRID_C, width: 1 } },
      minorSplitLine: { show: true, lineStyle: { color: GRID_C, width: 1 } },
      name: '{n|Cumulated AE energy [10}{s|-14}{n| V}{s|2}{n|s]}',
      nameLocation: 'middle', nameGap: 134, nameRotate: 90,
      nameTextStyle: {
        rich: {
          n: { fontSize: 32, color: '#000', fontFamily: FONT, lineHeight: 38 },
          s: { fontSize: 20, color: '#000', fontFamily: FONT, verticalAlign: 'top' }
        }
      }
    },
    stressAxis(3, 61)
  ],
  legend: [
    {
      data: ['Class #1', 'Class #2'], orient: 'vertical', left: 175, top: 21,
      padding: [9, 11, 7, 31], itemGap: 7, itemWidth: 76, itemHeight: 10,
      backgroundColor: '#fff', borderColor: '#555', borderWidth: 1, borderRadius: 0,
      textStyle: { fontSize: 29, color: '#000', fontFamily: FONT }, selectedMode: false
    },
    {
      data: [{ name: 'Cum #1', icon: 'rect' }, { name: 'Cum #2', icon: 'rect' }],
      orient: 'vertical', left: 747, top: 1448,
      padding: [8, 13, 6, 4], itemGap: 9, itemWidth: 73, itemHeight: 3,
      backgroundColor: '#fff', borderColor: '#555', borderWidth: 1, borderRadius: 0,
      formatter: n => n.replace('Cum', 'Class'),
      textStyle: { fontSize: 30, color: '#000', fontFamily: FONT }, selectedMode: false
    }
  ],
  title: [
    { text: 'Block load repetitions #17 and #18', right: 159, top: 26, padding: [1, 3, 1, 3], backgroundColor: '#fff',
      textStyle: { fontSize: 22, fontWeight: 'normal', color: '#000', fontFamily: FONT } },
    { text: 'Block load repetitions #17 and #18', left: 200, top: 1089, padding: [2, 4, 2, 4], backgroundColor: '#fff',
      textStyle: { fontSize: 23, fontWeight: 'normal', color: '#000', fontFamily: FONT } },
    { text: 'Class #1', right: 650, top: 605, padding: [1, 3, 1, 3], backgroundColor: '#fff',
      textStyle: { fontSize: 24, fontWeight: 'normal', color: '#000', fontFamily: FONT } },
    { text: 'Class #2', right: 5, top: 605, padding: [1, 3, 1, 3], backgroundColor: '#fff',
      textStyle: { fontSize: 24, fontWeight: 'normal', color: '#000', fontFamily: FONT } },
    { text: '(a)', left: 540, top: 550, padding: 0, textStyle: labelFont },
    { text: '(b)', left: 218, top: 1032, padding: 0, textStyle: labelFont },
    { text: '(c)', left: 859, top: 1032, padding: 0, textStyle: labelFont },
    { text: '(d)', left: 540, top: 1648, padding: 0, textStyle: labelFont }
  ],
  series: [
    {
      name: 'Class #1 band', type: 'scatter', xAxisIndex: 0, yAxisIndex: 0, data: class1BandPoints,
      symbol: 'circle', symbolSize: 9,
      itemStyle: { color: 'rgba(0,0,0,0)', borderColor: '#000', borderWidth: 2, opacity: 1 }
    },
    {
      name: 'Class #1', type: 'scatter', xAxisIndex: 0, yAxisIndex: 0, data: class1Points,
      symbol: 'circle', symbolSize: 9,
      itemStyle: { color: '#fff', borderColor: '#000', borderWidth: 1.3, opacity: 1 }
    },
    {
      name: 'Class #2', type: 'scatter', xAxisIndex: 0, yAxisIndex: 0, data: kc(class2Hits),
      symbol: 'circle', symbolSize: 9,
      itemStyle: { color: '#fff', borderColor: MAGENTA, borderWidth: 1.3, opacity: 1 }
    },
    {
      name: 'Stress a', type: 'line', xAxisIndex: 0, yAxisIndex: 1, data: kc(stressSteps),
      step: 'end', symbol: 'none', lineStyle: { color: RED, width: 3 }
    },
    {
      name: 'Wave #1', type: 'line', xAxisIndex: 1, yAxisIndex: 2, data: wavePoints(wave1),
      symbol: 'none', lineStyle: { color: '#000', width: 2 }
    },
    {
      name: 'Wave #2', type: 'line', xAxisIndex: 2, yAxisIndex: 3, data: wavePoints(wave2),
      symbol: 'none', lineStyle: { color: MAGENTA, width: 2 }
    },
    {
      name: 'Cum #1', type: 'line', xAxisIndex: 3, yAxisIndex: 4, data: energyPoints(energy1),
      symbol: 'none', itemStyle: { color: '#000' }, lineStyle: { color: '#000', width: 2.5 }
    },
    {
      name: 'Cum #2', type: 'line', xAxisIndex: 3, yAxisIndex: 4, data: energyPoints(energy2),
      symbol: 'none', itemStyle: { color: MAGENTA }, lineStyle: { color: MAGENTA, width: 2.5 }
    },
    {
      name: 'Stress d', type: 'line', xAxisIndex: 3, yAxisIndex: 5, data: kc(stressSteps),
      step: 'end', symbol: 'none', lineStyle: { color: RED, width: 2.5 }
    }
  ]
}

const chart = echarts.init(document.getElementById('chart'))
chart.setOption(option)
</script>
</body>
</html>
